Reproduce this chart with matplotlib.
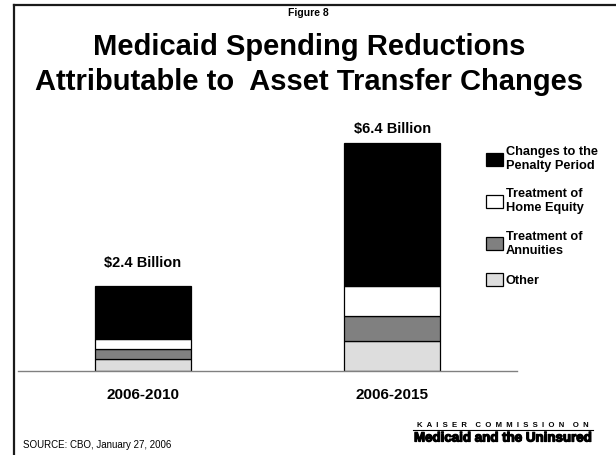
import matplotlib.pyplot as plt
from matplotlib.lines import Line2D
import matplotlib.patheffects as pe

plt.rcParams['font.family'] = ['Liberation Sans', 'DejaVu Sans']

# data (billions of dollars)
periods = ["2006-2010", "2006-2015"]
totals = [2.4, 6.4]
other = [0.35, 0.85]
annuities = [0.28, 0.70]
home_equity = [0.28, 0.85]
penalty_period = [1.49, 4.00]
total_labels = ["$2.4 Billion", "$6.4 Billion"]

series = [
    ("Other", other, "#dddddd"),
    ("Treatment of\nAnnuities", annuities, "#808080"),
    ("Treatment of\nHome Equity", home_equity, "#ffffff"),
    ("Changes to the\nPenalty Period", penalty_period, "#000000"),
]

W, H = 616, 455
fig = plt.figure(figsize=(W / 100, H / 100), dpi=100)
ax = fig.add_axes([18 / W, 84 / H, 499 / W, 270.6 / H])

x = range(len(periods))
bottom = [0.0] * len(periods)
handles = []
for name, vals, col in series:
    b = ax.bar(x, vals, width=0.385, bottom=bottom, color=col,
               edgecolor="black", linewidth=0.9, label=name)
    handles.append(b)
    bottom = [bb + v for bb, v in zip(bottom, vals)]

# total labels above bars
offsets = [11, 5]
for i, (tot, lab) in enumerate(zip(totals, total_labels)):
    ax.annotate(lab, (i, tot), xytext=(0, offsets[i]), textcoords="offset points",
                ha="center", va="bottom", fontsize=10.5, fontweight="bold")

ax.set_xlim(-0.5, 1.5)
ax.set_ylim(0, 7.6)
ax.set_xticks(list(x))
ax.set_xticklabels(periods, fontsize=11, fontweight="bold")
ax.tick_params(axis="x", length=0, pad=12)
ax.set_yticks([])
for s in ["top", "right", "left"]:
    ax.spines[s].set_visible(False)
ax.spines["bottom"].set_color("#808080")
ax.spines["bottom"].set_linewidth(1.0)

leg = ax.legend(handles=handles[::-1], loc="upper left",
                bbox_to_anchor=(486 / W, 1 - 146 / H), bbox_transform=fig.transFigure,
                frameon=False, fontsize=9.2, borderpad=0, borderaxespad=0,
                handlelength=1.3, handleheight=1.2, handletextpad=0.25,
                labelspacing=1.3)
for t in leg.get_texts():
    t.set_fontweight("bold")

# titles
fig.text(308 / W, 1 - 13 / H, "Figure 8", ha="center", va="center",
         fontsize=7.5, fontweight="bold")
fig.text(309 / W, 1 - 47 / H, "Medicaid Spending Reductions", ha="center",
         va="center", fontsize=21, fontweight="bold")
fig.text(309 / W, 1 - 82 / H, "Attributable to  Asset Transfer Changes",
         ha="center", va="center", fontsize=21, fontweight="bold")

# footer
fig.text(23 / W, 1 - 445 / H, "SOURCE: CBO, January 27, 2006", ha="left",
         va="center", fontsize=7)
fig.text(503 / W, 1 - 425.5 / H, "K  A  I  S  E  R    C  O  M  M  I  S  S  I  O  N    O  N",
         ha="center", va="center", fontsize=5.6, fontweight="bold")
fig.add_artist(Line2D([413 / W, 593 / W], [1 - 430 / H, 1 - 430 / H],
                      color="black", lw=0.8))
fig.text(503 / W, 1 - 438.5 / H, "Medicaid and the Uninsured", ha="center",
         va="center", fontsize=9.6, fontweight="bold",
         path_effects=[pe.withStroke(linewidth=0.9, foreground="black")])

# slide frame
fig.add_artist(Line2D([14 / W, 14 / W], [0, 1 - 5 / H], color="#1a1a1a", lw=1.6))
fig.add_artist(Line2D([14 / W, 1], [1 - 5 / H, 1 - 5 / H], color="#1a1a1a", lw=1.6))

fig.savefig("out.png", dpi=100)
